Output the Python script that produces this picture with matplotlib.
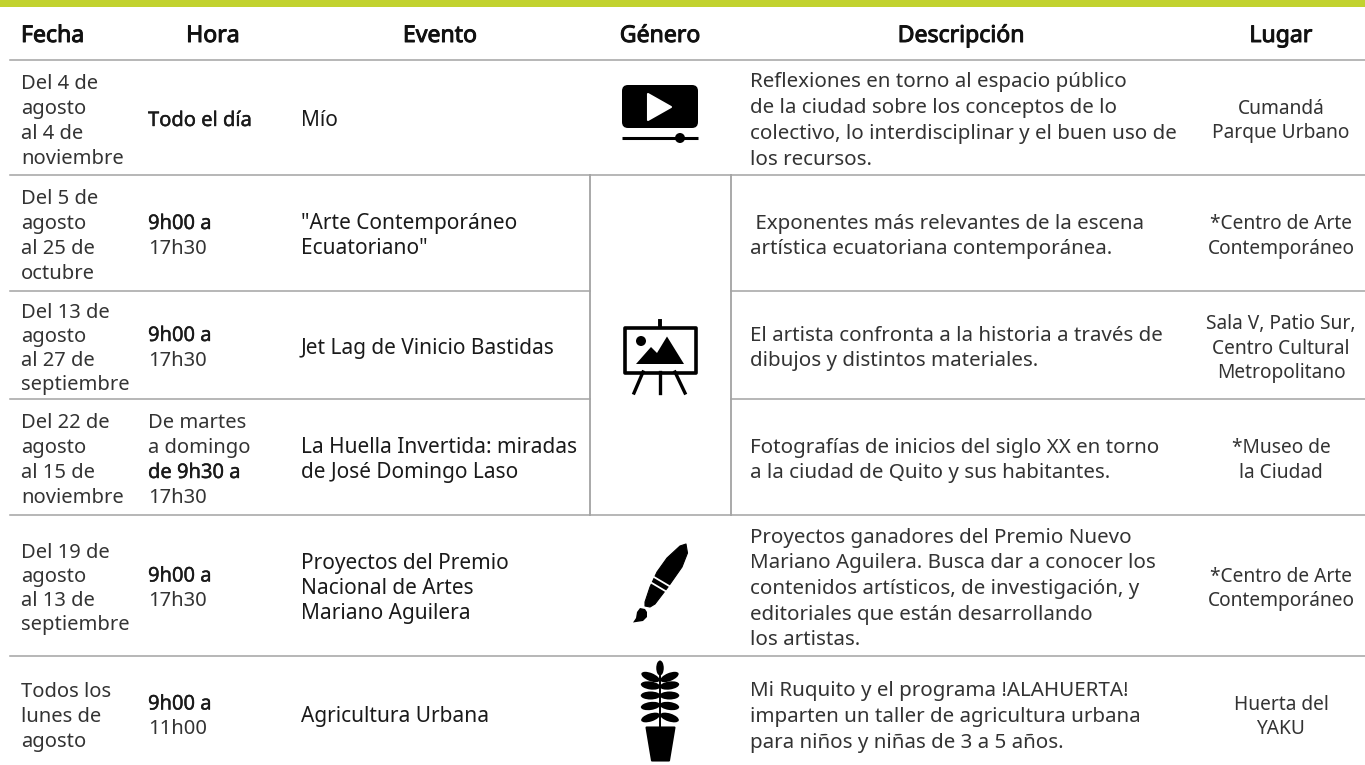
import matplotlib
matplotlib.use("Agg")
import matplotlib.pyplot as plt
import matplotlib.patheffects as pe
from matplotlib.patches import Rectangle, FancyBboxPatch, Polygon, Circle, Ellipse

plt.rcParams['font.family'] = ['Noto Sans', 'DejaVu Sans']

headers = ["Fecha", "Hora", "Evento", "Género", "Descripción", "Lugar"]
fechas = [
    "Del 4 de\nagosto\nal 4 de\nnoviembre",
    "Del 5 de\nagosto\nal 25 de\noctubre",
    "Del 13 de\nagosto\nal 27 de\nseptiembre",
    "Del 22 de\nagosto\nal 15 de\nnoviembre",
    "Del 19 de\nagosto\nal 13 de\nseptiembre",
    "Todos los\nlunes de\nagosto",
]
horas = [
    "Todo el día",
    "9h00 a\n17h30",
    "9h00 a\n17h30",
    "De martes\na domingo\nde 9h30 a\n17h30",
    "9h00 a\n17h30",
    "9h00 a\n11h00",
]
eventos = [
    "Mío",
    "\"Arte Contemporáneo\nEcuatoriano\"",
    "Jet Lag de Vinicio Bastidas",
    "La Huella Invertida: miradas\nde José Domingo Laso",
    "Proyectos del Premio\nNacional de Artes\nMariano Aguilera",
    "Agricultura Urbana",
]
descripciones = [
    "Reflexiones en torno al espacio público\nde la ciudad sobre los conceptos de lo\ncolectivo, lo interdisciplinar y el buen uso de\nlos recursos.",
    " Exponentes más relevantes de la escena\nartística ecuatoriana contemporánea.",
    "El artista confronta a la historia a través de\ndibujos y distintos materiales.",
    "Fotografías de inicios del siglo XX en torno\na la ciudad de Quito y sus habitantes.",
    "Proyectos ganadores del Premio Nuevo\nMariano Aguilera. Busca dar a conocer los\ncontenidos artísticos, de investigación, y\neditoriales que están desarrollando\nlos artistas.",
    "Mi Ruquito y el programa !ALAHUERTA!\nimparten un taller de agricultura urbana\npara niños y niñas de 3 a 5 años.",
]
lugares = [
    "Cumandá\nParque Urbano",
    "*Centro de Arte\nContemporáneo",
    "Sala V, Patio Sur,\nCentro Cultural\nMetropolitano",
    "*Museo de\nla Ciudad",
    "*Centro de Arte\nContemporáneo",
    "Huerta del\nYAKU",
]

# bordes de fila en px
row_lines = [60, 175, 291, 399, 515, 656]
row_bottom = 771
fecha_steps = [25, 25, 24, 25, 24, 25]
INK = "#1a1a1a"
SOFT = "#333333"
LINE = "#a3a3a3"

fig = plt.figure(figsize=(13.65, 7.65), dpi=100)
ax = fig.add_axes([0, 0, 1, 1])
ax.set_xlim(0, 1365)
ax.set_ylim(765, 0)
ax.axis("off")


def put_lines(x, center, text, step, **kw):
    # cada linea por separado para fijar el interlineado en px
    lines = text.split("\n")
    base = center + 8.5 - step * (len(lines) - 1) / 2
    for n, s in enumerate(lines):
        ax.text(x, base + n * step, s, va="baseline", **kw)


ax.add_patch(Rectangle((0, 0), 1365, 7, color="#c2d22f", lw=0))

# cabecera (el trazo simula el peso medio)
head_x = [21, 213, 440, 660, 961, 1281]
head_ha = ["left", "center", "center", "center", "center", "center"]
for h, x, ha in zip(headers, head_x, head_ha):
    ax.text(x, 42, h, ha=ha, va="baseline", fontsize=16.6, color="#111111",
            path_effects=[pe.withStroke(linewidth=0.7, foreground="#111111")])

# lineas
for y in [60, 175, 515, 656]:
    ax.plot([10, 1365], [y, y], color=LINE, lw=1.1)
for y in row_lines[2:4]:
    ax.plot([10, 590], [y, y], color=LINE, lw=1.1)
    ax.plot([731, 1365], [y, y], color=LINE, lw=1.1)
ax.plot([590, 590], [175, 515], color=LINE, lw=1.3)
ax.plot([731, 731], [175, 515], color=LINE, lw=1.3)

# celdas
edges = row_lines[1:] + [row_bottom]
centers = [(a + b) / 2 for a, b in zip(row_lines, edges)]
for i, c in enumerate(centers):
    put_lines(21, c, fechas[i], fecha_steps[i], ha="left", fontsize=14.5, color=SOFT)
    hora_lines = horas[i].split("\n")
    base = c + 8.5 - 25 * (len(hora_lines) - 1) / 2
    for n, s in enumerate(hora_lines):
        strong = "9h" in s or s == "Todo el día"
        ax.text(148, base + n * 25, s, ha="left", va="baseline", fontsize=14.5,
                color=INK if strong else SOFT,
                path_effects=[pe.withStroke(linewidth=0.3, foreground=INK)] if strong else None)
    put_lines(301, c, eventos[i], 25, ha="left", fontsize=15, color=INK)
    put_lines(750, c, descripciones[i], 25.7, ha="left", fontsize=14.8, color=SOFT)
    put_lines(1281, c, lugares[i], 24.5, ha="center", fontsize=13.8, color=SOFT)

# icono video
ax.add_patch(FancyBboxPatch((624, 87), 72, 39, boxstyle="round,pad=2,rounding_size=6", fc="black", ec="none"))
ax.add_patch(Polygon([[648, 94], [671, 107], [648, 120]], closed=True, fc="white", ec="white", lw=1.5, joinstyle="round"))
ax.plot([622, 698], [138, 138], color="black", lw=2.2, solid_capstyle="butt")
ax.add_patch(Circle((680, 138), 5, fc="black", ec="none"))

# icono caballete
ax.add_patch(Rectangle((624.5, 327.5), 71, 45, fc="white", ec="black", lw=2.6, joinstyle="round"))
ax.plot([660, 660], [321, 327], color="black", lw=2.8)
ax.plot([660, 660], [372, 393], color="black", lw=2.4)
ax.plot([643, 634], [372, 393], color="black", lw=2.4)
ax.plot([675, 685], [372, 393], color="black", lw=2.4)
ax.add_patch(Circle((641, 341), 5, fc="black", ec="none"))
ax.add_patch(Polygon([[636, 364], [651, 347], [657, 353], [667, 336.5], [684, 364]], closed=True, fc="black", ec="none"))

# icono pincel
ax.add_patch(Polygon([[686, 544], [687.5, 553], [682, 567], [675, 577], [668, 587], [655, 604], [650, 607],
                      [645, 606], [645, 602], [650, 587], [657, 572], [667, 558], [680, 546]],
                     closed=True, fc="black", ec="black", lw=0.8, joinstyle="round"))
ax.plot([654, 670], [577, 586.5], color="white", lw=1.3)
ax.plot([651, 667], [582.5, 592], color="white", lw=1.3)
ax.add_patch(Polygon([[640, 608], [645, 609], [647, 612], [647, 617], [643, 621], [633, 622.5],
                      [636, 618], [637, 612]], closed=True, fc="black", ec="none"))

# icono planta
ax.plot([660, 660], [670, 728], color="black", lw=1.4)
ax.add_patch(Ellipse((660, 668), 7.5, 15, fc="black", ec="none"))
for y, a in [(677, 22), (685.5, 8), (695.5, 0), (706, -8), (717.5, -18)]:
    ax.add_patch(Ellipse((650.5, y), 19.5, 8, angle=a, fc="black", ec="none"))
    ax.add_patch(Ellipse((669.5, y), 19.5, 8, angle=-a, fc="black", ec="none"))
ax.add_patch(Polygon([[646.5, 727.5], [674.5, 727.5], [669, 760.5], [652, 760.5]], closed=True, fc="black", ec="black",
                     lw=1.5, joinstyle="round"))

fig.savefig("out.png", dpi=100)
